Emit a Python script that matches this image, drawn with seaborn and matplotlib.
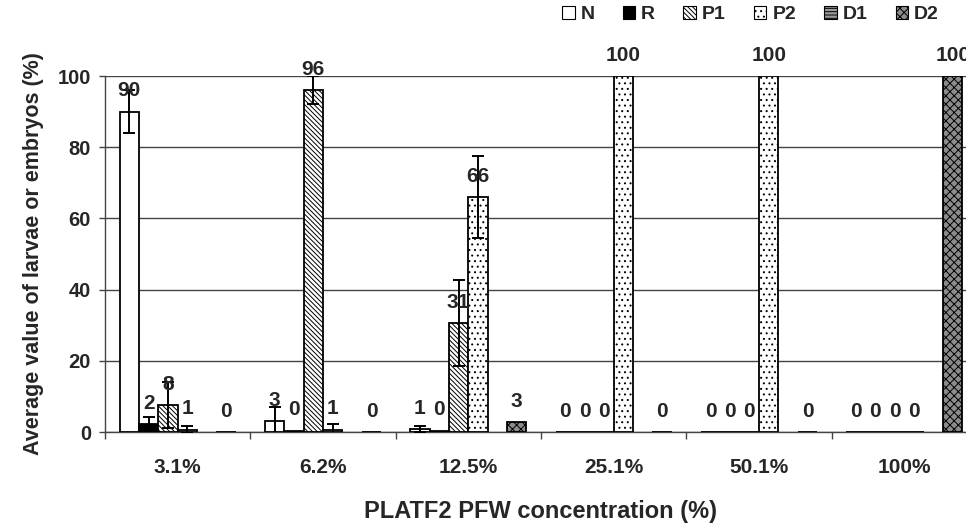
import numpy as np
import pandas as pd
import matplotlib
matplotlib.use("Agg")
import matplotlib.pyplot as plt
import seaborn as sns
from matplotlib.patches import Patch

# ---------------- data ----------------
concentrations = ["3.1%", "6.2%", "12.5%", "25.1%", "50.1%", "100%"]
series = ["N", "R", "P1", "P2", "D1", "D2"]

N_vals = [90, 3, 0.8, 0, 0, 0]
R_vals = [2.2, 0.4, 0.4, 0, 0, 0]
P1_vals = [7.5, 96, 30.6, 0, 0, 0]
P2_vals = [0.7, 0.7, 66, 100, 100, 0]
D1_vals = [np.nan, np.nan, np.nan, np.nan, np.nan, np.nan]
D2_vals = [0, 0, 2.7, 0, 0, 100]

N_err = [6, 4, 0.8, 0, 0, 0]
R_err = [2, 0, 0, 0, 0, 0]
P1_err = [6.5, 4, 12, 0, 0, 0]
P2_err = [0.9, 1.5, 11.5, 0, 0, 0]
D1_err = [0, 0, 0, 0, 0, 0]
D2_err = [0, 0, 0, 0, 0, 0]

values = {"N": N_vals, "R": R_vals, "P1": P1_vals, "P2": P2_vals, "D1": D1_vals, "D2": D2_vals}
errors = {"N": N_err, "R": R_err, "P1": P1_err, "P2": P2_err, "D1": D1_err, "D2": D2_err}

rows = []
for s in series:
    for c, v in zip(concentrations, values[s]):
        rows.append({"conc": c, "series": s, "value": v})
df = pd.DataFrame(rows)

# ---------------- style ----------------
sns.set_style("ticks")
plt.rcParams["font.family"] = ["Liberation Sans", "DejaVu Sans"]
plt.rcParams["hatch.linewidth"] = 0.7

face = {"N": "white", "R": "black", "P1": "white", "P2": "white", "D1": "#9a9a9a", "D2": "#8c8c8c"}
hatch = {"N": None, "R": None, "P1": "\\\\\\\\\\\\\\", "P2": "...", "D1": "-----", "D2": "xxxx"}
hcolor = {"N": "black", "R": "black", "P1": "#444444", "P2": "#8a8a8a", "D1": "#555555", "D2": "#333333"}

W, H = 966, 524
fig = plt.figure(figsize=(W / 100, H / 100), dpi=100)
ax_left, ax_right, ax_bottom, ax_top = 105, 977, 432, 76
ax = fig.add_axes([ax_left / W, 1 - ax_bottom / H, (ax_right - ax_left) / W, (ax_bottom - ax_top) / H])

sns.barplot(data=df, x="conc", y="value", hue="series", order=concentrations,
            hue_order=series, palette=face, saturation=1, errorbar=None,
            edgecolor="black", linewidth=1.3, width=0.8, legend=False, ax=ax, zorder=3)

present = [s for s in series if np.isfinite(np.array(values[s], dtype=float)).any()]
levels = series if len(ax.containers) == len(series) else present
for cont, s in zip(ax.containers, levels):
    for bar, v, e in zip(cont, values[s], errors[s]):
        if hatch[s]:
            bar.set_hatch(hatch[s])
            if hasattr(bar, "set_hatchcolor"):
                bar.set_hatchcolor(hcolor[s])
        bar.set_zorder(3)
        if not np.isfinite(v):
            continue
        xc = bar.get_x() + bar.get_width() / 2
        if e > 0:
            ax.errorbar(xc, v, yerr=e, fmt="none", ecolor="black", elinewidth=1.4,
                        capsize=4.5, capthick=1.4, zorder=4)
        ax.annotate(f"{v:.0f}", (xc, v), xytext=(0, 8), textcoords="offset points",
                    ha="center", va="bottom", fontsize=15, fontweight="bold",
                    annotation_clip=False, zorder=5)

ax.set_ylim(0, 100)
ax.set_xlim(-0.5, 5.5)
ax.set_yticks([0, 20, 40, 60, 80, 100])
ax.yaxis.grid(True, color="#444444", linewidth=1.0, zorder=0)
ax.set_axisbelow(True)
for sp in ["top", "right"]:
    ax.spines[sp].set_visible(False)
for sp in ["left", "bottom"]:
    ax.spines[sp].set_color("#444444")
    ax.spines[sp].set_linewidth(1.0)

ax.tick_params(axis="y", direction="out", length=4, width=1, color="#444444", pad=6,
               labelsize=14.5)
for t in ax.get_yticklabels():
    t.set_fontweight("bold")
ax.set_xticks(np.arange(-0.5, 6.0, 1.0), minor=True)
ax.tick_params(axis="x", which="minor", direction="out", length=5, width=1, color="#444444")
ax.tick_params(axis="x", which="major", length=0, pad=19)
ax.set_xticklabels(concentrations, fontsize=15, fontweight="bold")

ax.set_xlabel("PLATF2 PFW concentration (%)", fontsize=17, fontweight="bold", labelpad=16)
ax.set_ylabel("Average value of larvae or embryos (%)", fontsize=15.5, fontweight="bold",
              labelpad=10)

handles = []
for s in series:
    p = Patch(facecolor=face[s], edgecolor="black", linewidth=0.8, hatch=hatch[s], label=s)
    handles.append(p)
fig.legend(handles=handles, loc="upper right", bbox_to_anchor=(0.99, 1.022), ncol=6,
           frameon=False, handlelength=0.65, handleheight=0.65, handletextpad=0.3,
           columnspacing=1.45, prop={"weight": "bold", "size": 14})

fig.savefig("out.png", dpi=100)
